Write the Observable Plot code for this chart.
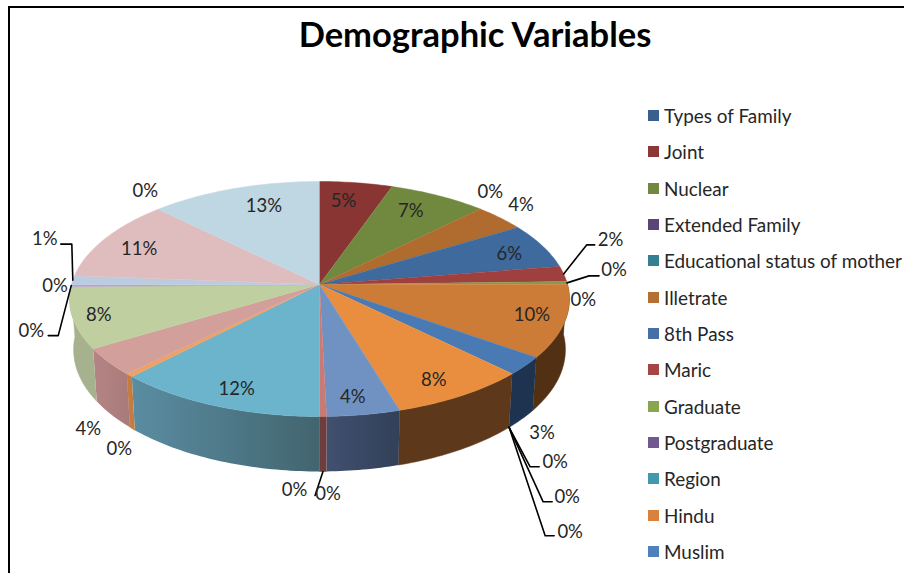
<!DOCTYPE html>
<html>
<head>
<meta charset="utf-8">
<script src="https://cdn.jsdelivr.net/npm/d3@7"></script>
<script src="https://cdn.jsdelivr.net/npm/@observablehq/plot@0.6"></script>
<style>
  html, body { margin: 0; padding: 0; background: #fff; }
  #page { position: relative; width: 904px; height: 573px; overflow: hidden; font-family: Lato, "Open Sans", sans-serif; color: #222; }
  #frame { position: absolute; left: 8px; top: 6px; width: 904px; height: 600px; border-left: 2.5px solid #000; border-top: 2px solid #000; }
  #title { position: absolute; left: 275px; top: 12px; width: 400px; margin: 0; text-align: center; font-size: 34.5px; font-weight: 700; color: #000; white-space: nowrap; line-height: 44px; }
  #chart { position: absolute; left: 0; top: 0; }
  #chart svg { display: block; }
  #legend { position: absolute; left: 648px; top: 97.5px; }
  .row { display: flex; align-items: center; height: 36.33px; font-size: 18.9px; white-space: nowrap; color: #262626; }
  .swatch { width: 11px; height: 11px; margin-right: 5px; flex: none; }
</style>
</head>
<body>
<div id="page">
  <div id="frame"></div>
  <div id="chart"></div>
  <h1 id="title"></h1>
  <div id="legend"></div>
</div>
<script>
const chartTitle = "Demographic Variables";

const legendNames = ["Types of Family", "Joint", "Nuclear", "Extended Family", "Educational status of mother",
  "Illetrate", "8th Pass", "Maric", "Graduate", "Postgraduate", "Region", "Hindu", "Muslim"];
const legendColors = ["#3a5f8c", "#8c3836", "#71893f", "#5b4577", "#357f93", "#b56f32", "#4470a6",
  "#a64545", "#89a54e", "#71588f", "#4198af", "#d9823b", "#4f81bd"];

// Share of the pie, in percent, clockwise from the top
const sliceValues = [0, 5.3, 7.15, 0, 0, 3.75, 6.25, 2.15, 0.35, 0, 0, 10, 2.5, 0, 0, 0,
  7.95, 4.2, 0.4, 0, 12.1, 0.45, 3.75, 8.4, 0, 0.3, 1.2, 11.3, 0, 12.5];
const sliceColors = ["#3a5f8c", "#883533", "#71893f", "#5b4577", "#357f93", "#b06b2e", "#3e6a9e",
  "#9f3f3e", "#7f9e48", "#71588f", "#4198af", "#cd7c37", "#4a7ab3", "#888", "#888", "#888",
  "#e98e3f", "#7092c2", "#c87a76", "#888", "#6cb3cc", "#f0a060", "#d29f9b", "#bfcf9f", "#888",
  "#b3a5c8", "#bccce0", "#dfbdbf", "#888", "#bfd7e2"];
const wallColors = [null, null, null, null, null, null, null, null, "#6b8340", null, null, "#523014",
  "#1e3350", null, null, null, "#5e381b", ["#40506e", "#324058"], "#6e3e3e", null,
  ["#5a8da2", "#42656f"], "#c47d40", ["#b58585", "#a87a7a"], "#a5b28d", null, null, null, null, null, null];

// Label layout, relative to the slice's point on the rim (null: the slice has no label)
const labelOffsets = [null, [-12.6, 18.7], [-27.5, 15.8], [10, -17], null, [21, -13], [-33, 8], [47, -34],
  [47, -13], [16, 16], null, [-33, -6], [17, 67], [43, 88], [55, 123], [58, 158],
  [-28, -15], [-11, -18], [5, 78], [-25, 74], [21, -17], [-10, 74], [-20, 67], [26, -3],
  [-16, -1], [-40, 45], [-28, -41], [34, 10], [-13, -18], [29.5, 18]];
// Leader bends, relative to the label
const leaderBends = {
  7: [[-24, 5], [-16, 5]], 8: [[-25, 6], [-15, 6]],
  13: [[-25, 5], [-16, 5]], 14: [[-24, 5], [-15, 5]], 15: [[-25, 4], [-16, 4]],
  18: [[-13, 1]], 25: [[27, 5], [17, 5]], 26: [[27, 5], [16, 5]]
};
const leadersFromBase = [13, 14, 15, 18];

// Pie geometry: a tilted disc seen in perspective
const cx = 319, cy = 284, rx = 248, ry = 115.7, k = 0.1234;
const rim = (deg) => {
  const t = deg * Math.PI / 180, u = Math.sin(t), v = -Math.cos(t), d = 1 - k * v;
  return { x: cx + rx * u / d, y: cy + ry * v / d, v };
};
const base = (deg) => {
  const p = rim(deg);
  return { x: cx + 0.984 * (p.x - cx), y: p.y + 50 + 5 * Math.max(p.v, 0) };
};
const arc = (a, b, f) => {
  const n = Math.max(2, Math.ceil(Math.abs(b - a)));
  return d3.range(n + 1).map((j) => f(a + (b - a) * j / n));
};

let cum = 0;
const slices = sliceValues.map((value, i) => {
  const a0 = cum * 3.6; cum += value; const a1 = cum * 3.6;
  return { i, value, a0, a1, mid: (a0 + a1) / 2, color: sliceColors[i], wall: wallColors[i] };
});

const defs = () => {
  const d = d3.create("svg:defs");
  slices.filter((s) => Array.isArray(s.wall)).forEach((s) => {
    const g = d.append("linearGradient").attr("id", "wall" + s.i);
    g.append("stop").attr("offset", "0%").attr("stop-color", s.wall[0]);
    g.append("stop").attr("offset", "100%").attr("stop-color", s.wall[1]);
  });
  return d.node();
};

const wallMarks = slices.filter((s) => s.wall && s.value > 0).map((s) => {
  const fill = Array.isArray(s.wall) ? `url(#wall${s.i})` : s.wall;
  return Plot.line([...arc(s.a0, s.a1, rim), ...arc(s.a1, s.a0, base)],
    { x: "x", y: "y", fill, stroke: Array.isArray(s.wall) ? "none" : s.wall, strokeWidth: 0.5, curve: "linear" });
});
const topMarks = slices.filter((s) => s.value > 0).map((s) =>
  Plot.line([{ x: cx, y: cy }, ...arc(s.a0, s.a1, rim)],
    { x: "x", y: "y", fill: s.color, stroke: s.color, strokeWidth: 0.5, curve: "linear" }));

const labels = slices.filter((s) => labelOffsets[s.i]).map((s) => {
  const p = rim(s.mid), o = labelOffsets[s.i];
  return { i: s.i, x: p.x + o[0], y: p.y + o[1], text: Math.round(s.value) + "%", mid: s.mid };
});
const leaders = labels.filter((l) => leaderBends[l.i]).flatMap((l) => {
  const start = leadersFromBase.includes(l.i) ? base(l.mid) : rim(l.mid);
  return [{ i: l.i, x: start.x, y: start.y },
    ...leaderBends[l.i].map(([dx, dy]) => ({ i: l.i, x: l.x + dx, y: l.y + dy }))];
});

const plot = Plot.plot({
  width: 904, height: 573, margin: 0,
  style: { background: "transparent" },
  x: { domain: [0, 904], range: [0, 904], axis: null },
  y: { domain: [0, 573], range: [0, 573], axis: null },
  marks: [
    defs,
    ...wallMarks,
    ...topMarks,
    Plot.line(leaders, { x: "x", y: "y", z: "i", stroke: "#000", strokeWidth: 1.6, curve: "linear" }),
    Plot.text(labels, { x: "x", y: "y", text: "text", fontSize: 18.5, fontFamily: "Lato", fill: "#262626", lineAnchor: "middle" })
  ]
});
document.getElementById("chart").append(plot);
document.getElementById("title").textContent = chartTitle;

const legend = d3.select("#legend");
legendNames.forEach((name, i) => {
  const row = legend.append("div").attr("class", "row");
  row.append("span").attr("class", "swatch").style("background", legendColors[i]);
  row.append("span").text(name);
});
</script>
</body>
</html>
